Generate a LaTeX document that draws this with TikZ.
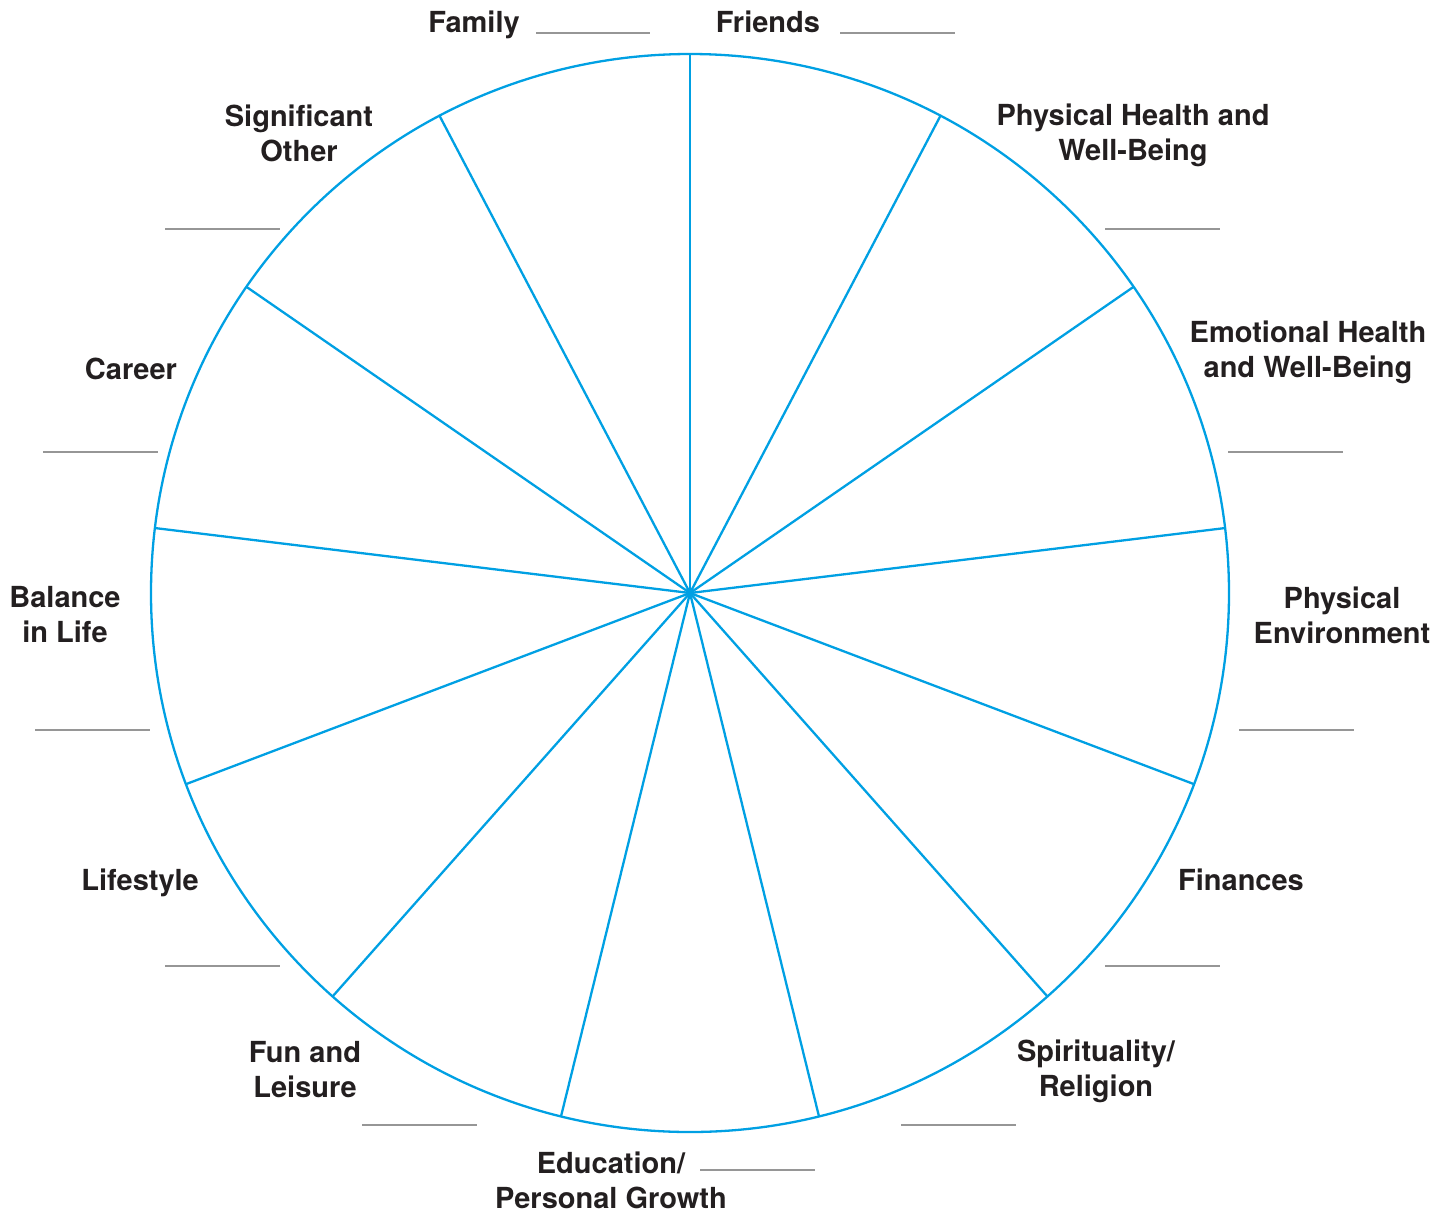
\documentclass[tikz,border=0pt]{standalone}
\usepackage{fontspec}
\setmainfont{TeX Gyre Heros}
\usepackage{xcolor}
\usetikzlibrary{positioning}
\definecolor{wheelblue}{RGB}{0,160,227}
\definecolor{blankgray}{RGB}{150,150,150}
\definecolor{labelink}{RGB}{35,31,32}

\begin{document}
\begin{tikzpicture}[x=0.5pt, y=-0.5pt,
  area/.style={font=\fontsize{14.5}{17.5}\selectfont\bfseries, text=labelink, align=center, inner sep=0pt},
  blank/.style={draw=blankgray, line width=1.4pt},
  spoke/.style={draw=wheelblue, line width=1.15pt}]
  \useasboundingbox (0,0) rectangle (1448,1212);

  % the wheel: rim and thirteen spokes
  \coordinate (hub) at (690,593);
  \draw[spoke] (hub) circle [radius=539];
  \foreach \k in {0,...,12} {
    \path (hub) ++({\k*360/13-90}:539) coordinate (rim\k);
    \draw[spoke] (hub) -- (rim\k);
  }

  \node[area] (family)    at (474,25)  {Family};
  \node[area] (friends)   at (768,22)  {Friends};
  \node[area] (physhealth) at (1133,135) {Physical Health and\\Well-Being};
  \node[area] (emohealth) at (1308,352) {Emotional Health\\and Well-Being};
  \node[area] (environ)   at (1342,615) {Physical\\Environment};
  \node[area] (finances)  at (1241,880) {Finances};
  \node[area] (spirit)    at (1096,1071) {Spirituality/\\Religion};
  \node[area] (education) at (611,1180) {Education/\\Personal Growth};
  \node[area] (fun)       at (305,1070) {Fun and\\Leisure};
  \node[area] (lifestyle) at (140,883)  {Lifestyle};
  \node[area] (balance)   at (65,615)   {Balance\\in Life};
  \node[area] (career)    at (131,369)  {Career};
  \node[area] (partner)   at (299,133)  {Significant\\Other};

  % rating blanks
  \draw[blank] (536,33)   -- (650,33);
  \draw[blank] (840,33)   -- (955,33);
  \draw[blank] (1105,229) -- (1220,229);
  \draw[blank] (1228,452) -- (1343,452);
  \draw[blank] (1239,730) -- (1354,730);
  \draw[blank] (1105,966) -- (1220,966);
  \draw[blank] (901,1125) -- (1016,1125);
  \draw[blank] (700,1170) -- (815,1170);
  \draw[blank] (362,1125) -- (477,1125);
  \draw[blank] (165,966)  -- (280,966);
  \draw[blank] (35,730)   -- (150,730);
  \draw[blank] (43,452)   -- (158,452);
  \draw[blank] (165,229)  -- (280,229);
\end{tikzpicture}
\end{document}
